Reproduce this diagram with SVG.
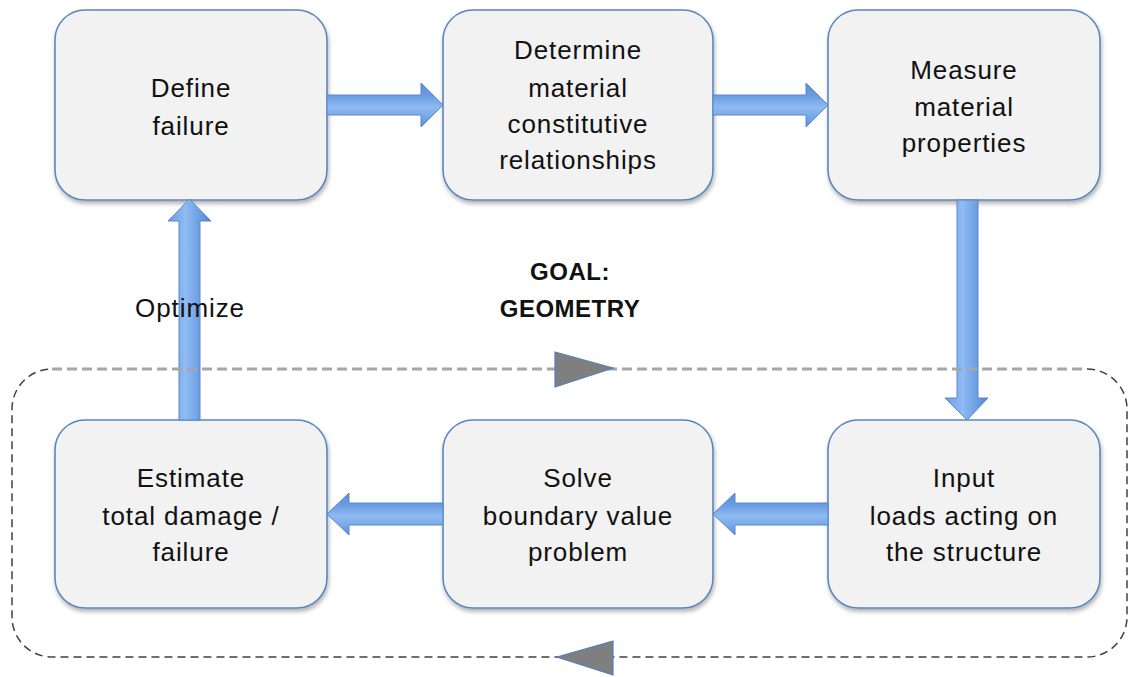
<svg xmlns="http://www.w3.org/2000/svg" width="1130" height="677" viewBox="0 0 1130 677">
  <defs>
    <style>
      .box { fill: #f2f2f2; stroke: #5b86c0; stroke-width: 1.6; filter: url(#shadow); }
      .lbl { font-family: "Liberation Sans", Arial, sans-serif; font-size: 26px; letter-spacing: 0.9px; fill: #111; text-anchor: middle; }
      .goal { font-family: "Liberation Sans", Arial, sans-serif; font-size: 24px; font-weight: bold; letter-spacing: 0.5px; fill: #111; text-anchor: middle; }
      .arrowH { fill: url(#gradH); stroke: #5a88c8; stroke-width: 1; }
      .arrowV { fill: url(#gradV); stroke: #5a88c8; stroke-width: 1; }
      .loopTop { fill: none; stroke: #a6a6a6; stroke-width: 3; stroke-dasharray: 10 5; }
      .loopRest { fill: none; stroke: #404040; stroke-width: 1.5; stroke-dasharray: 8 5; }
      .tri { fill: #7f7f7f; stroke: #4f7fc0; stroke-width: 1.2; }
    </style>
    <filter id="shadow" x="-10%" y="-10%" width="125%" height="130%">
      <feDropShadow dx="1" dy="3" stdDeviation="2" flood-color="#000" flood-opacity="0.3"/>
    </filter>
    <linearGradient id="gradH" x1="0" y1="0" x2="0" y2="1">
      <stop offset="0" stop-color="#5b8fd8"/>
      <stop offset="0.3" stop-color="#6a9de3"/>
      <stop offset="0.55" stop-color="#8fbaf2"/>
      <stop offset="0.75" stop-color="#7aaaea"/>
      <stop offset="1" stop-color="#5b8fd8"/>
    </linearGradient>
    <linearGradient id="gradV" x1="0" y1="0" x2="1" y2="0">
      <stop offset="0" stop-color="#6a9de3"/>
      <stop offset="0.4" stop-color="#90bbf3"/>
      <stop offset="0.6" stop-color="#7aaaea"/>
      <stop offset="1" stop-color="#4f86d2"/>
    </linearGradient>
  </defs>

  <rect width="1130" height="677" fill="#ffffff"/>

  <!-- iteration loop outline -->
  <g id="loop">
    <path class="loopRest" d="M1087,369 A40,40 0 0 1 1127,409 V617 A40,40 0 0 1 1087,657 H52 A40,40 0 0 1 12,617 V409 A40,40 0 0 1 52,369"/>
  </g>

  <!-- process steps -->
  <g id="define-failure">
    <rect class="box" x="55" y="10" width="272" height="190" rx="30"/>
    <text class="lbl" x="191" y="97">Define</text>
    <text class="lbl" x="191" y="135">failure</text>
  </g>
  <g id="determine-relationships">
    <rect class="box" x="443" y="10" width="270" height="190" rx="30"/>
    <text class="lbl" x="578" y="59">Determine</text>
    <text class="lbl" x="578" y="97">material</text>
    <text class="lbl" x="578" y="133">constitutive</text>
    <text class="lbl" x="578" y="169">relationships</text>
  </g>
  <g id="measure-properties">
    <rect class="box" x="828" y="10" width="272" height="190" rx="30"/>
    <text class="lbl" x="964" y="79">Measure</text>
    <text class="lbl" x="964" y="116">material</text>
    <text class="lbl" x="964" y="152">properties</text>
  </g>
  <g id="input-loads">
    <rect class="box" x="828" y="420" width="272" height="188" rx="30"/>
    <text class="lbl" x="964" y="487">Input</text>
    <text class="lbl" x="964" y="525">loads acting on</text>
    <text class="lbl" x="964" y="561">the structure</text>
  </g>
  <g id="solve-bvp">
    <rect class="box" x="443" y="420" width="270" height="188" rx="30"/>
    <text class="lbl" x="578" y="487">Solve</text>
    <text class="lbl" x="578" y="525">boundary value</text>
    <text class="lbl" x="578" y="561">problem</text>
  </g>
  <g id="estimate-damage">
    <rect class="box" x="55" y="420" width="272" height="188" rx="30"/>
    <text class="lbl" x="191" y="487">Estimate</text>
    <text class="lbl" x="191" y="525">total damage /</text>
    <text class="lbl" x="191" y="561">failure</text>
  </g>

  <!-- block arrows between steps -->
  <g id="connectors">
    <path class="arrowH" d="M327,95 H421 V83 L443,105 L421,127 V115 H327 Z"/>
    <path class="arrowH" d="M713,95 H806 V83 L828,105 L806,127 V115 H713 Z"/>
    <path class="arrowV" d="M957,200 H978 V398 H988 L967,420 L945,398 H957 Z"/>
    <path class="arrowH" d="M828,503 H735 V493 L713,514 L735,535 V525 H828 Z"/>
    <path class="arrowH" d="M443,503 H349 V493 L327,514 L349,535 V525 H443 Z"/>
    <path class="arrowV" d="M179,420 V221 H168 L189.5,199 L211,221 H200 V420 Z"/>
  </g>

  <!-- loop top edge and direction markers -->
  <g id="loop-markers">
    <path class="loopTop" d="M52,369 H1087"/>
    <path class="tri" d="M555,352 L613,368 L555,387 Z"/>
    <path class="tri" d="M613,641 L557,657 L613,675 Z"/>
  </g>

  <g id="labels">
    <text class="lbl" x="190" y="317">Optimize</text>
    <text class="goal" x="570" y="280">GOAL:</text>
    <text class="goal" x="570" y="317">GEOMETRY</text>
  </g>
</svg>
